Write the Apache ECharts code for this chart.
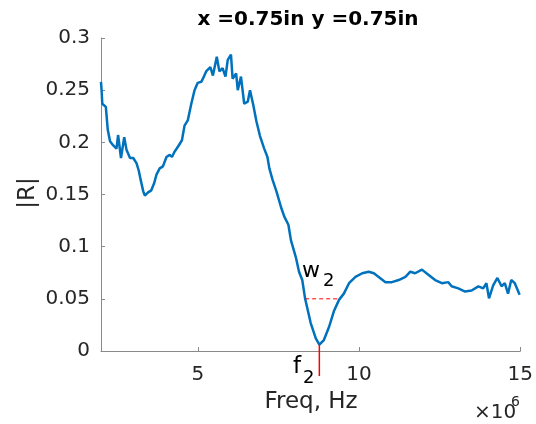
<!DOCTYPE html>
<html>
<head>
<meta charset="utf-8">
<script src="https://cdn.jsdelivr.net/npm/echarts@6/dist/echarts.min.js"></script>
<style>html,body{margin:0;padding:0;background:#fff}#c{width:536px;height:424px}</style>
</head>
<body>
<div id="c"></div>
<script>
// Frequency in units of 1e6 Hz
const freq = [2.00,2.02,2.04,2.15,2.21,2.28,2.38,2.48,2.53,2.62,2.72,2.79,2.90,3.00,3.10,3.17,3.23,3.31,3.36,3.46,3.56,3.65,3.72,3.82,3.92,4.03,4.13,4.20,4.28,4.39,4.51,4.59,4.69,4.80,4.90,5.00,5.11,5.16,5.26,5.39,5.47,5.59,5.67,5.77,5.86,5.93,6.03,6.08,6.19,6.24,6.34,6.44,6.55,6.62,6.72,6.82,6.93,7.06,7.16,7.22,7.32,7.44,7.58,7.68,7.81,7.89,8.04,8.14,8.24,8.33,8.50,8.66,8.77,8.91,9.07,9.22,9.38,9.53,9.69,9.89,10.10,10.30,10.46,10.61,10.82,11.02,11.23,11.44,11.59,11.74,11.95,12.15,12.36,12.57,12.77,12.87,13.08,13.29,13.49,13.70,13.85,13.95,14.03,14.16,14.29,14.42,14.52,14.62,14.72,14.83,14.98];
const absR = [0.258,0.249,0.237,0.234,0.212,0.201,0.197,0.194,0.207,0.185,0.205,0.193,0.185,0.185,0.180,0.173,0.164,0.153,0.149,0.152,0.154,0.161,0.169,0.175,0.177,0.186,0.188,0.186,0.191,0.196,0.202,0.216,0.221,0.237,0.250,0.257,0.258,0.261,0.268,0.272,0.264,0.282,0.268,0.271,0.263,0.279,0.284,0.261,0.266,0.250,0.263,0.237,0.239,0.250,0.236,0.220,0.206,0.194,0.186,0.175,0.164,0.153,0.138,0.129,0.121,0.106,0.090,0.076,0.068,0.050,0.027,0.012,0.006,0.0105,0.023,0.038,0.049,0.055,0.065,0.071,0.0745,0.076,0.0745,0.071,0.066,0.066,0.068,0.071,0.076,0.0745,0.078,0.073,0.068,0.065,0.066,0.062,0.060,0.057,0.058,0.062,0.060,0.065,0.0505,0.063,0.070,0.062,0.065,0.055,0.068,0.065,0.054];
const xTicks = [5, 10, 15];
const yTicks = [0, 0.05, 0.1, 0.15, 0.2, 0.25, 0.3];
// Annotation values
const halfLevel = 0.05;
const bandFreq = [8.33, 9.38];
const f2 = 8.77;
const f2Line = [0.006, -0.024];

const titleText = 'x =0.75in y =0.75in';
const xName = 'Freq, Hz';
const yName = '|R|';

const chart = echarts.init(document.getElementById('c'), null, {renderer: 'canvas'});
const FONT = 'DejaVu Sans';
const AX = '#8a8a8a';
chart.setOption({
  animation: false,
  backgroundColor: '#fff',
  grid: {left: 101, right: 14, top: 38, bottom: 73, containLabel: false},
  xAxis: {
    type: 'value', min: 2, max: 15,
    axisLine: {show: true, lineStyle: {color: AX, width: 1}},
    axisTick: {show: true, inside: true, length: 4, customValues: xTicks, lineStyle: {color: AX}},
    axisLabel: {customValues: xTicks, color: '#262626', fontFamily: FONT, fontSize: 20, margin: 14,
      formatter: v => String(v)},
    splitLine: {show: false}
  },
  yAxis: {
    type: 'value', min: 0, max: 0.3,
    axisLine: {show: true, lineStyle: {color: AX, width: 1}},
    axisTick: {show: true, inside: true, length: 4, customValues: yTicks, lineStyle: {color: AX}},
    axisLabel: {customValues: yTicks, color: '#262626', fontFamily: FONT, fontSize: 20, margin: 11,
      formatter: v => String(+v.toFixed(2))},
    splitLine: {show: false}
  },
  series: [
    {
      type: 'line', data: freq.map((f, i) => [f, absR[i]]),
      showSymbol: false, symbol: 'none',
      lineStyle: {color: '#0072BD', width: 2.5}, z: 3
    },
    {
      type: 'line', data: bandFreq.map(f => [f, halfLevel]),
      showSymbol: false, symbol: 'none',
      lineStyle: {color: '#ff0000', width: 1, type: [4, 3]}, z: 4
    },
    {
      type: 'line', data: f2Line.map(v => [f2, v]), clip: false,
      showSymbol: false, symbol: 'none',
      lineStyle: {color: '#ff0000', width: 1.5}, z: 4
    }
  ],
  graphic: [
    {type: 'text', style: {text: titleText, x: 308, y: 10, align: 'center', font: 'bold 20px "DejaVu Sans"', fill: '#000'}},
    {type: 'text', style: {text: xName, x: 311, y: 391, align: 'center', font: '23px "DejaVu Sans"', fill: '#262626'}},
    {type: 'text', rotation: Math.PI / 2, x: 17, y: 193, style: {text: yName, x: 0, y: 0, align: 'center', verticalAlign: 'top', font: '23px "DejaVu Sans"', fill: '#262626'}},
    {type: 'text', style: {text: '×10', x: 474, y: 403, font: '20px "DejaVu Sans"', fill: '#262626'}},
    {type: 'text', style: {text: '6', x: 511, y: 395, font: '14px "DejaVu Sans"', fill: '#262626'}},
    {type: 'text', style: {text: 'w', x: 302, y: 260, font: '22px "DejaVu Sans"', fill: '#000'}},
    {type: 'text', style: {text: '2', x: 323, y: 272, font: '18px "DejaVu Sans"', fill: '#000'}},
    {type: 'text', style: {text: 'f', x: 293, y: 356, font: '23px "DejaVu Sans"', fill: '#000'}},
    {type: 'text', style: {text: '2', x: 303, y: 369, font: '18px "DejaVu Sans"', fill: '#000'}}
  ]
});
</script>
</body>
</html>
